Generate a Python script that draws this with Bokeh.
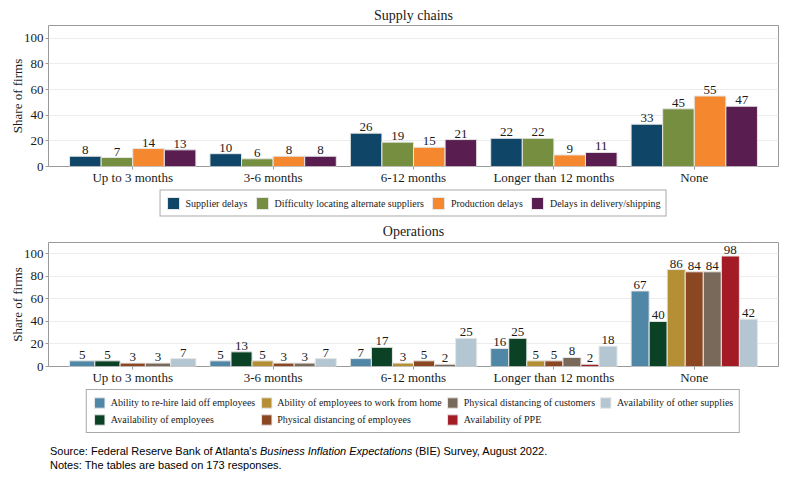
from bokeh.plotting import figure
from bokeh.layouts import column
from bokeh.models import (Range1d, FixedTicker, Legend, LegendItem, Div, ColumnDataSource)
from bokeh.core.properties import value
from bokeh.embed import file_html
from bokeh.resources import INLINE

# ---------------- data ----------------
categories = ["Up to 3 months", "3-6 months", "6-12 months", "Longer than 12 months", "None"]

supply_series = ["Supplier delays", "Difficulty locating alternate suppliers",
                 "Production delays", "Delays in delivery/shipping"]
supplier_delays = [8, 10, 26, 22, 33]
difficulty_locating = [7, 6, 19, 22, 45]
production_delays = [14, 8, 15, 9, 55]
delivery_delays = [13, 8, 21, 11, 47]
supply_colors = ["#0f4667", "#768e3f", "#f5882f", "#5a1d4f"]

ops_series = ["Ability to re-hire laid off employees", "Availability of employees",
              "Ability of employees to work from home", "Physical distancing of employees",
              "Physical distancing of customers", "Availability of PPE",
              "Availability of other supplies"]
rehire = [5, 5, 7, 16, 67]
avail_employees = [5, 13, 17, 25, 40]
work_from_home = [None, 5, 3, 5, 86]
distancing_employees = [3, 3, 5, 5, 84]
distancing_customers = [3, 3, 2, 8, 84]
avail_ppe = [None, None, None, 2, 98]
other_supplies = [7, 7, 25, 18, 42]
ops_colors = ["#5086a6", "#0b4226", "#b58f34", "#8b4721", "#78695a", "#a31c25", "#b3c6d1"]

y_ticks = [0, 20, 40, 60, 80, 100]

SERIF = "Liberation Serif"
TXT = "#1a1a1a"


def dodge(values, group_width=0.9):
    ncat = len(values[0])
    out = [dict(x=[], top=[], w=[], lab=[]) for _ in values]
    for c in range(ncat):
        present = [s for s in range(len(values)) if values[s][c] is not None]
        n = len(present)
        w = group_width / n
        for k, s in enumerate(present):
            out[s]["x"].append((c + 1) - group_width / 2 + w * (k + 0.5))
            out[s]["top"].append(values[s][c])
            out[s]["w"].append(w)
            out[s]["lab"].append(str(values[s][c]))
    return out


def make_chart(title, values, colors, height, top_border, bottom_border, title_standoff):
    p = figure(width=791, height=height, output_backend="svg",
               toolbar_location=None, min_border_left=48, min_border_right=13,
               min_border_top=top_border, min_border_bottom=bottom_border,
               x_range=Range1d(0.4, 5.6), y_range=Range1d(0, 110), title=title)
    p.title.align = "center"
    p.title.text_font = SERIF
    p.title.text_font_size = "14px"
    p.title.text_font_style = "normal"
    p.title.text_color = TXT
    p.title.standoff = title_standoff
    p.outline_line_color = "#9a9a9a"
    p.outline_line_width = 1
    p.xgrid.grid_line_color = None
    p.ygrid.grid_line_color = "#ececec"

    p.yaxis.ticker = FixedTicker(ticks=y_ticks)
    p.xaxis.ticker = FixedTicker(ticks=[1, 2, 3, 4, 5])
    p.xaxis.major_label_overrides = {i + 1: c for i, c in enumerate(categories)}
    for ax in (p.xaxis[0], p.yaxis[0]):
        ax.axis_line_color = None
        ax.major_tick_line_color = "#9a9a9a"
        ax.major_tick_out = 3
        ax.major_tick_in = 0
        ax.minor_tick_line_color = None
        ax.major_label_text_font = SERIF
        ax.major_label_text_font_size = "13px"
        ax.major_label_text_color = TXT
    p.xaxis.major_label_standoff = 0
    p.yaxis.major_label_standoff = 2
    p.yaxis.axis_label = "Share of firms"
    p.yaxis.axis_label_text_font = SERIF
    p.yaxis.axis_label_text_font_size = "13px"
    p.yaxis.axis_label_text_font_style = "normal"
    p.yaxis.axis_label_text_color = TXT
    p.yaxis.axis_label_standoff = -4

    parts = dodge(values)
    lx, ly, lt = [], [], []
    for s, part in enumerate(parts):
        src = ColumnDataSource(dict(x=part["x"], top=part["top"], w=part["w"]))
        p.vbar(x="x", top="top", width="w", bottom=0, source=src,
               fill_color=colors[s], line_color="#e6e6e6", line_width=1)
        lx += part["x"]; ly += part["top"]; lt += part["lab"]
    p.text(x=lx, y=ly, text=lt, text_align="center", text_baseline="middle",
           text_font=value(SERIF), text_font_size="13px", text_color=TXT, y_offset=-6)
    return p


def make_legend(names, colors, height, font_size, glyph, nrows, spacing, padding):
    q = figure(width=791, height=height, output_backend="svg", toolbar_location=None,
               min_border_left=48, min_border_right=13, min_border_top=0, min_border_bottom=0,
               x_range=Range1d(0, 1), y_range=Range1d(0, 1))
    q.axis.visible = False
    q.grid.visible = False
    q.outline_line_color = None
    items = []
    for name, col in zip(names, colors):
        # hidden placeholder bar (outside the visible range) that only provides the legend swatch
        r = q.vbar(x=[-10], top=[-10], bottom=-11, width=0.1, fill_color=col,
                   line_color="#e6e6e6", line_width=1)
        items.append(LegendItem(label=name, renderers=[r]))
    leg = Legend(items=items, location="center",
                 orientation="vertical" if nrows > 1 else "horizontal",
                 label_text_font=SERIF, label_text_font_size=font_size,
                 label_text_color=TXT, glyph_width=glyph, glyph_height=glyph,
                 label_height=glyph, label_standoff=5, spacing=spacing, padding=padding,
                 margin=0, border_line_color="#555555", border_line_width=1.5)
    if nrows > 1:
        leg.nrows = nrows
    q.add_layout(leg, "center")
    return q


p1 = make_chart("Supply chains",
                [supplier_delays, difficulty_locating, production_delays, delivery_delays],
                supply_colors, 187, 25, 20, 5)
l1 = make_legend(supply_series, supply_colors, 31, "10px", 15, 1, 7, 5)
p2 = make_chart("Operations",
                [rehire, avail_employees, work_from_home, distancing_employees,
                 distancing_customers, avail_ppe, other_supplies],
                ops_colors, 169, 23, 20, 7)
l2 = make_legend(ops_series, ops_colors, 48, "10px", 13, 2, 4, 6)

note = Div(text=("Source: Federal Reserve Bank of Atlanta's <i>Business Inflation Expectations</i> "
                 "(BIE) Survey, August 2022.<br>Notes: The tables are based on 173 responses."),
           width=700, height=36, margin=(9, 0, 0, 50),
           styles={"font-family": "'Liberation Sans', Arial, sans-serif", "font-size": "11px",
                   "line-height": "14px", "color": "#000"})

layout = column(p1, l1, p2, l2, note, spacing=0)
open("out.html", "w").write(file_html(layout, INLINE))
